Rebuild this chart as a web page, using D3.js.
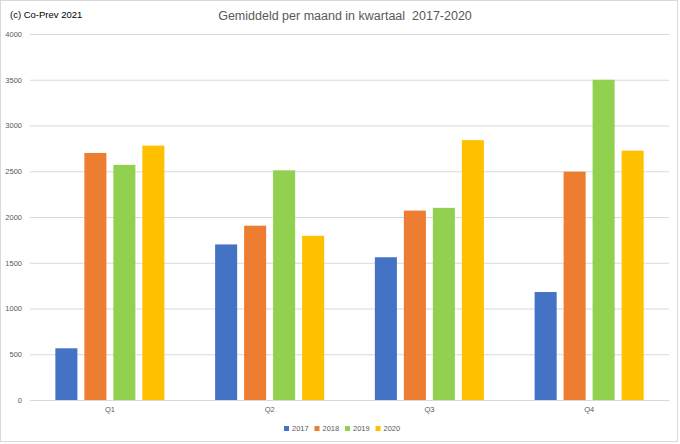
<!DOCTYPE html>
<html>
<head>
<meta charset="utf-8">
<script src="https://cdn.jsdelivr.net/npm/d3@7"></script>
<style>
  body { margin:0; background:#fff; }
  text { font-family: "Liberation Sans", Arial, sans-serif; }
</style>
</head>
<body>
<div id="chart"></div>
<script>
// Data
var quarters = ['Q1','Q2','Q3','Q4'];
var years = ['2017','2018','2019','2020'];
var values2017 = [565, 1700, 1560, 1180];
var values2018 = [2700, 1905, 2070, 2495];
var values2019 = [2570, 2510, 2100, 3500];
var values2020 = [2780, 1795, 2840, 2725];
var yTicks = [0,500,1000,1500,2000,2500,3000,3500,4000];

var series = [values2017, values2018, values2019, values2020];
var colours = ['#4472C4','#ED7D31','#92D050','#FFC000'];

var width = 680, height = 444;
var margin = {top:34, left:30, right:11, bottom:44};

var svg = d3.select('#chart')
	.append('svg')
		.attr('width', width)
		.attr('height', height);

// Chart frame
svg.append('rect')
	.attr('x',0.5).attr('y',0.5)
	.attr('width', width-3).attr('height', height-3)
	.attr('fill','#fff')
	.attr('stroke','#d9d9d9');

var y = d3.scaleLinear()
	.domain([0,4000])
	.range([height-margin.bottom, margin.top]);

var x0 = d3.scaleBand()
	.domain(quarters)
	.range([margin.left, width-margin.right]);

var x1 = d3.scaleBand()
	.domain(years)
	.range([0, x0.bandwidth()])
	.paddingInner(0.24)
	.paddingOuter(0.875);

// Gridlines and y labels
var yAxis = svg.append('g')
	.attr('transform','translate('+margin.left+',0)')
	.call(d3.axisLeft(y).tickValues(yTicks)
		.tickSize(-(width-margin.left-margin.right))
		.tickPadding(8)
		.tickFormat(d3.format('d')));
yAxis.select('.domain').remove();
yAxis.selectAll('.tick line').attr('stroke','#d9d9d9');
yAxis.selectAll('.tick text')
	.attr('fill','#595959')
	.style('font-size','7.5px');

// Bars
var groups = svg.selectAll('g.quarter')
	.data(quarters)
	.enter()
	.append('g')
		.attr('class','quarter')
		.attr('transform', function(d){ return 'translate('+x0(d)+',0)'; });

groups.selectAll('rect')
	.data(function(d,i){
		return years.map(function(yr,j){ return {year:yr, value:series[j][i], c:colours[j]}; });
	})
	.enter()
	.append('rect')
		.attr('x', function(d){ return x1(d.year); })
		.attr('y', function(d){ return y(d.value); })
		.attr('width', x1.bandwidth())
		.attr('height', function(d){ return y(0) - y(d.value); })
		.attr('fill', function(d){ return d.c; });

// x axis
var xAxis = svg.append('g')
	.attr('transform','translate(0,'+y(0)+')')
	.call(d3.axisBottom(x0).tickSize(0).tickPadding(7));
xAxis.select('.domain').attr('stroke','#d9d9d9');
xAxis.selectAll('.tick text')
	.attr('fill','#595959')
	.style('font-size','7.5px');

// Title and copyright
svg.append('text')
	.attr('x', 345).attr('y', 20)
	.attr('text-anchor','middle')
	.attr('fill','#595959')
	.style('font-size','12.5px')
	.text('Gemiddeld per maand in kwartaal  2017-2020')
	.attr('xml:space','preserve');

svg.append('text')
	.attr('x', 10).attr('y', 18)
	.attr('fill','#000')
	.style('font-size','9.5px')
	.text('(c) Co-Prev 2021');

// Legend
var legend = svg.selectAll('g.key')
	.data(years)
	.enter()
	.append('g')
		.attr('class','key')
		.attr('transform', function(d,i){ return 'translate('+(284 + i*30.5)+',430)'; });
legend.append('rect')
	.attr('x',0).attr('y',-4)
	.attr('width',5).attr('height',5)
	.attr('fill', function(d,i){ return colours[i]; });
legend.append('text')
	.attr('x',8).attr('y',1)
	.attr('fill','#595959')
	.style('font-size','7.5px')
	.text(function(d){ return d; });
</script>
</body>
</html>
